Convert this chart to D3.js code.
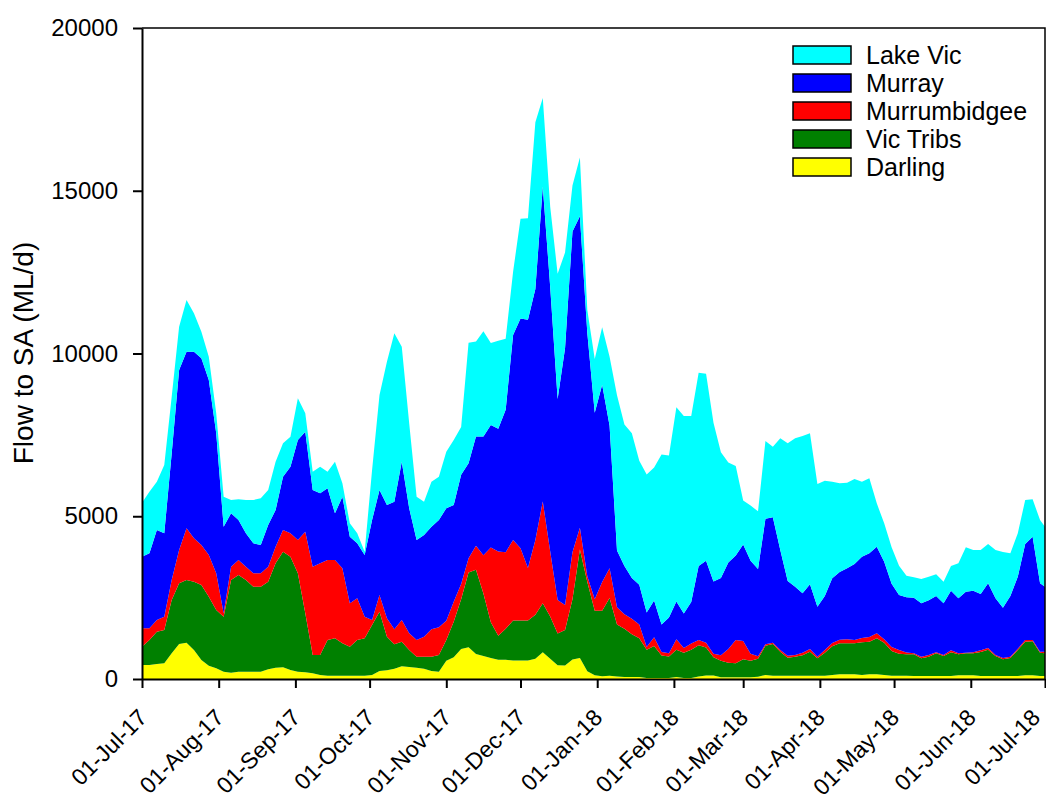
<!DOCTYPE html>
<html>
<head>
<meta charset="utf-8">
<script src="https://d3js.org/d3.v7.min.js"></script>
<style>
  body { margin: 0; background: white; }
  text { font-family: "Liberation Sans", Arial, sans-serif; }
</style>
</head>
<body>
<div id="chart_area"></div>
<script>

// Flow to SA (ML/d), one reading every 3 days from 01-Jul-17, last one on 01-Jul-18
var sampleDays = d3.range(0, 364, 3).concat([365]);

var darling = [430,430,461,481,788,1075,1116,891,584,410,328,225,195,225,225,225,225,297,348,358,
  276,225,205,174,123,102,102,102,102,102,102,123,246,266,317,389,369,348,317,246,
  225,563,666,918,977,765,706,647,589,589,565,565,565,624,824,624,424,412,600,647,
  235,118,82,100,74,64,64,64,32,32,32,32,64,32,32,74,106,106,53,53,
  53,53,53,70,123,102,102,102,102,102,102,102,102,123,143,143,143,123,143,143,
  123,102,102,97,92,92,92,92,92,92,113,113,113,92,92,92,92,92,92,113,
  113,92,92];

var vicTribs = [563,768,993,1024,1638,1864,1925,2099,2304,2120,1792,1690,2847,2970,2816,2611,2611,2693,3205,3553,
  3482,3021,1812,563,614,1096,1147,993,891,1096,1147,1536,1823,1034,748,758,522,338,369,440,
  512,635,1096,1530,2295,2589,1919,1095,741,953,1236,1236,1236,1353,1506,1295,977,1095,1848,3331,
  2743,1977,2013,2390,1600,1483,1313,1186,868,985,688,657,836,773,868,964,858,561,508,445,
  434,551,508,555,901,973,738,553,584,625,738,533,707,881,953,953,953,1003,1004,1106,
  993,758,676,663,666,543,594,696,615,727,645,675,675,737,809,615,512,553,799,1034,
  1044,717,696];

var murrumbidgee = [563,358,358,410,614,1024,1587,1331,1229,1280,1126,102,410,461,410,410,410,461,512,666,
  717,1024,2509,2714,2816,2458,2406,2304,1331,1280,666,154,512,563,461,666,512,512,614,840,
  850,594,614,471,436,742,1177,2295,2589,2354,2472,2213,1612,2296,3120,2000,1024,765,1448,671,
  176,353,883,910,529,444,477,424,85,265,106,105,318,148,191,159,148,106,170,424,
  710,561,212,75,41,41,51,62,51,82,82,51,82,102,112,123,102,134,143,154,
  103,123,113,55,30,51,51,31,30,62,30,21,31,52,51,30,41,41,41,51,
  41,31,52];

var murray = [2202,2304,2765,2560,3891,5530,5427,5734,5734,5376,4301,2662,1638,1229,1024,922,870,1280,1126,1638,
  2048,3072,3072,2355,2150,2202,1434,2202,2048,1690,1894,3072,3226,3482,3922,4864,3840,3072,3123,3154,
  3297,3451,2970,3354,2919,3354,3648,3767,3767,4378,6297,7062,7627,7709,9680,8122,6179,7886,9851,9569,
  7474,5732,6061,4380,1748,1483,1250,1218,1059,1133,848,1092,1165,1060,1271,2277,2521,2225,2373,2658,
  2595,2966,2860,2680,3860,3850,3072,2294,2099,1823,1986,1536,1659,1986,2079,2181,2335,2498,2570,2662,
  2385,1946,1689,1695,1711,1638,1680,1731,1587,1833,1690,1874,1895,1730,1987,1741,1546,1864,2212,2949,
  3174,2099,1996];

var lakeVic = [1659,1894,1485,2099,1741,1331,1587,1178,819,717,614,922,410,635,1024,1331,1434,1075,1485,1024,
  922,1280,563,563,819,512,1587,410,410,307,102,1536,2918,4403,5171,3533,2611,1331,1024,1382,
  1331,1741,1997,1472,3707,2919,3237,2518,2707,2178,1942,3060,3119,5120,2720,2471,3849,2942,1413,1800,
  707,1648,1766,2120,4767,4344,4449,3813,4238,4079,5222,4978,5964,6069,5720,5933,5742,4873,3866,3072,
  2754,1356,1695,1770,2386,2171,3430,4229,4557,4833,4639,3768,3543,2970,2724,2631,2611,2304,2304,1331,
  1178,1116,902,660,624,748,727,665,666,757,1075,1362,1249,1352,1208,1485,1710,1310,1331,1352,
  1147,1945,1844];

// Series names bottom to top of the stack, and their fills
var seriesNames = ["Darling", "Vic Tribs", "Murrumbidgee", "Murray", "Lake Vic"];
var seriesColours = ["#ffff00", "#008000", "#ff0000", "#0000ff", "#00ffff"];

// Axis ticks
var yTicks = [0, 5000, 10000, 15000, 20000];
var xTickLabels = ["01-Jul-17", "01-Aug-17", "01-Sep-17", "01-Oct-17", "01-Nov-17", "01-Dec-17",
  "01-Jan-18", "01-Feb-18", "01-Mar-18", "01-Apr-18", "01-May-18", "01-Jun-18", "01-Jul-18"];

window.onload = function() {

  var startDate = new Date(Date.UTC(2017, 6, 1));
  var endDate = new Date(Date.UTC(2018, 6, 1));
  var allSeries = [darling, vicTribs, murrumbidgee, murray, lakeVic];

  // Build one row per sample for d3.stack
  var rows = sampleDays.map(function(day, i) {
    var row = {date: d3.utcDay.offset(startDate, day)};
    seriesNames.forEach(function(name, j) {
      row[name] = allSeries[j][i];
    });
    return row;
  });

  var svgW = 1046;
  var svgH = 801;
  var margin = {left: 142, right: 1, top: 28, bottom: 122};
  var dataW = svgW - margin.left - margin.right;
  var dataH = svgH - margin.top - margin.bottom;

  var xScale = d3.scaleUtc()
                  .domain([startDate, endDate])
                  .range([margin.left, margin.left + dataW]);

  var yScale = d3.scaleLinear()
                  .domain([0, 20000])
                  .range([margin.top + dataH, margin.top]);

  var svg = d3.select("#chart_area")
              .append("svg")
                .attr("width", svgW)
                .attr("height", svgH)
                .style("background", "white");

  // Stacked areas
  var stacked = d3.stack().keys(seriesNames)(rows);

  var area = d3.area()
                .x(function(d) { return xScale(d.data.date); })
                .y0(function(d) { return yScale(d[0]); })
                .y1(function(d) { return yScale(d[1]); });

  svg.append("g")
      .selectAll("path")
      .data(stacked)
      .enter()
      .append("path")
        .attr("d", area)
        .attr("fill", function(d, i) { return seriesColours[i]; });

  // Frame on the top and right
  svg.append("path")
      .attr("d", "M" + margin.left + "," + margin.top + "H" + (margin.left + dataW) + "V" + (margin.top + dataH))
      .attr("fill", "none")
      .attr("stroke", "black")
      .attr("stroke-width", 1.5);

  // y axis
  var yAxis = d3.axisLeft(yScale)
                .tickValues(yTicks)
                .tickSize(9)
                .tickSizeOuter(0)
                .tickPadding(15)
                .tickFormat(d3.format("d"));

  var yG = svg.append("g")
              .attr("transform", "translate(" + margin.left + ",0)")
              .call(yAxis);

  yG.selectAll("text")
      .style("font-size", "24px")
      .attr("fill", "black");

  // x axis, one tick a month
  var monthTicks = d3.utcMonth.range(startDate, d3.utcDay.offset(endDate, 1));

  var xAxis = d3.axisBottom(xScale)
                .tickValues(monthTicks)
                .tickSize(9)
                .tickSizeOuter(0)
                .tickFormat(function(d, i) { return xTickLabels[i]; });

  var xG = svg.append("g")
              .attr("transform", "translate(0," + (margin.top + dataH) + ")")
              .call(xAxis);

  // Rotated labels end just right of the tick, but keep the last one inside the svg
  xG.selectAll("text")
      .attr("x", 0)
      .attr("y", 0)
      .attr("dy", 0)
      .attr("transform", function(d) {
        var shift = Math.min(6, svgW - 5 - xScale(d));
        return "translate(" + shift + ",40) rotate(-45)";
      })
      .style("text-anchor", "end")
      .style("font-size", "23px")
      .attr("fill", "black");

  [yG, xG].forEach(function(g) {
    g.select(".domain").attr("stroke", "black").attr("stroke-width", 2);
    g.selectAll(".tick line").attr("stroke", "black").attr("stroke-width", 2);
  });

  // y axis title
  svg.append("text")
      .attr("transform", "translate(33,353) rotate(-90)")
      .style("text-anchor", "middle")
      .style("font-size", "28px")
      .attr("fill", "black")
      .text("Flow to SA (ML/d)");

  // Legend, top series first
  var legendRows = seriesNames.slice().reverse();
  var legendColours = seriesColours.slice().reverse();

  var legend = svg.append("g")
                  .attr("transform", "translate(793,46)");

  legend.selectAll("rect")
        .data(legendRows)
        .enter()
        .append("rect")
          .attr("x", 0)
          .attr("y", function(d, i) { return i * 28; })
          .attr("width", 58)
          .attr("height", 18)
          .attr("fill", function(d, i) { return legendColours[i]; })
          .attr("stroke", "black")
          .attr("stroke-width", 1.5);

  legend.selectAll("text")
        .data(legendRows)
        .enter()
        .append("text")
          .attr("x", 73)
          .attr("y", function(d, i) { return i * 28 + 18; })
          .style("font-size", "25px")
          .attr("fill", "black")
          .text(function(d) { return d; });
};

</script>
</body>
</html>
